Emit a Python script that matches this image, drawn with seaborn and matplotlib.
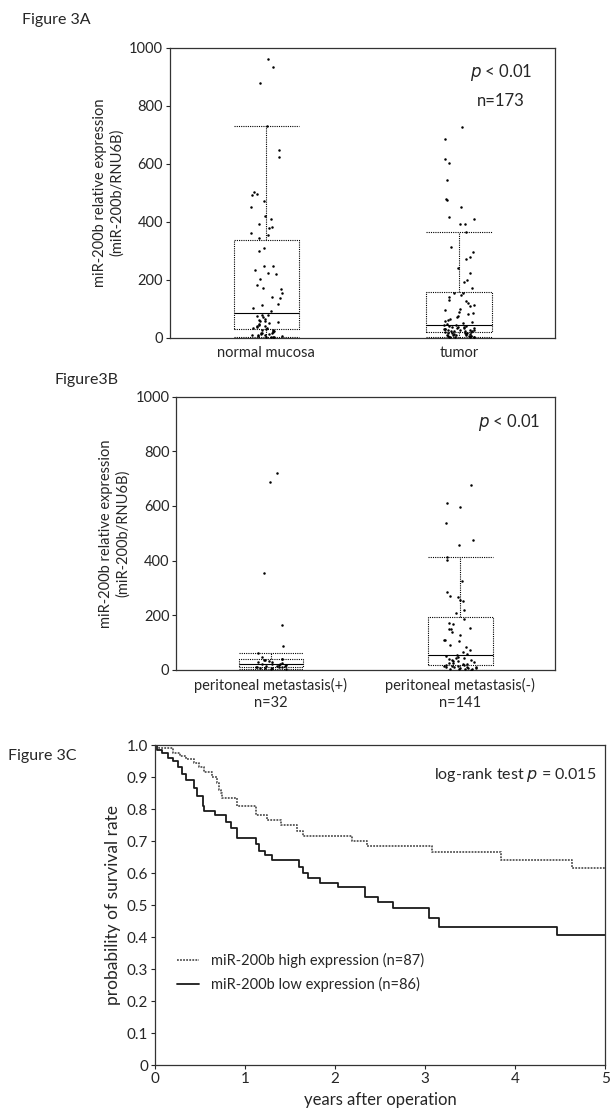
import numpy as np
import pandas as pd
import matplotlib
matplotlib.use("Agg")
import matplotlib.pyplot as plt
import seaborn as sns

#%% Data

# Figure 3A - miR-200b relative expression (miR-200b/RNU6B)
normal_vals = [960, 935, 879, 729, 646, 624, 502, 495, 493, 470, 451, 420, 410, 391, 382, 380, 360, 355,
               345, 310, 300, 246, 246, 235, 224, 221, 204, 181, 172, 168, 153, 139, 136, 117, 113, 104, 91, 80,
               78, 75, 70, 66, 62, 59, 57, 53, 50, 48, 45, 40, 40, 38, 35, 33, 30, 28, 25, 24,
               22, 20, 18, 16, 15, 13, 12, 10, 9, 8, 6, 5, 4, 3, 2, 1]
tumor_vals = [726, 684, 618, 601, 544, 478, 474, 451, 417, 410, 391, 391, 365, 312, 295, 278, 272, 241, 224, 198, 193, 170,
              155, 153, 147, 140, 130, 125, 119, 113, 108, 100, 95, 90, 85, 82, 74, 70, 65, 60, 57, 54, 52, 47,
              44, 43, 42, 40, 38, 37, 36, 34, 33, 32, 31, 30, 29, 28, 27, 26, 25, 24, 23, 22, 22, 21,
              19, 18, 17, 16, 15, 14, 13, 12, 11, 10, 9, 8, 7, 6, 5, 5, 4, 3, 3, 2, 2, 1]
groups_a = ["normal mucosa", "tumor"]

# Figure 3B - peritoneal metastasis
pm_pos_vals = [719, 687, 355, 165, 86, 61, 49, 41,
               38.5, 37, 35, 32, 30, 28, 25, 23,
               21, 20, 19, 18, 16, 15, 13, 11.5,
               10.5, 10, 9, 8, 7, 6, 5, 3]
pm_neg_vals = [678, 611, 595, 538, 477, 458, 414, 403, 326, 285, 269, 266, 257, 253, 220, 210,
               186, 171, 169, 153, 149, 149, 138, 128, 110, 110, 107, 92, 85, 73, 65, 58,
               53, 50, 47, 44, 42, 40, 38, 36, 34, 31, 29, 27, 25, 23, 21, 19,
               17, 16, 15, 14, 12, 11, 10, 9, 8, 7, 6, 5, 4, 3, 2, 1]
groups_b = ["peritoneal metastasis(+)\nn=32", "peritoneal metastasis(-)\nn=141"]

# Figure 3C - Kaplan-Meier curves
high_t = [0, 0.05, 0.2, 0.28, 0.345, 0.43, 0.49, 0.55, 0.63, 0.69, 0.71, 0.73, 0.75, 0.91, 1.12, 1.24,
          1.4, 1.58, 1.64, 2.19, 2.35, 3.08, 3.84, 4.63, 5.0]
high_s = [1.0, 0.99, 0.975, 0.965, 0.955, 0.945, 0.93, 0.915, 0.90, 0.88, 0.86, 0.85, 0.833, 0.81, 0.78, 0.765,
          0.75, 0.73, 0.715, 0.70, 0.685, 0.665, 0.64, 0.615, 0.615]
low_t = [0, 0.02, 0.08, 0.14, 0.2, 0.26, 0.3, 0.345, 0.43, 0.47, 0.53, 0.55, 0.67, 0.79, 0.85, 0.91,
         1.12, 1.16, 1.22, 1.3, 1.6, 1.64, 1.7, 1.83, 2.03, 2.33, 2.48, 2.64, 3.04, 3.15, 4.46, 5.0]
low_s = [1.0, 0.985, 0.975, 0.96, 0.95, 0.93, 0.91, 0.89, 0.865, 0.84, 0.81, 0.795, 0.78, 0.76, 0.74, 0.71,
         0.69, 0.67, 0.655, 0.64, 0.62, 0.60, 0.585, 0.57, 0.555, 0.525, 0.51, 0.49, 0.46, 0.43, 0.405, 0.405]

#%% Tables

df_a = pd.DataFrame({"group": [groups_a[0]] * len(normal_vals) + [groups_a[1]] * len(tumor_vals),
                     "value": normal_vals + tumor_vals})
df_b = pd.DataFrame({"group": [groups_b[0]] * len(pm_pos_vals) + [groups_b[1]] * len(pm_neg_vals),
                     "value": pm_pos_vals + pm_neg_vals})
km = pd.concat([
    pd.DataFrame({"years": high_t, "surv": high_s, "grp": "miR-200b high expression (n=87)"}),
    pd.DataFrame({"years": low_t, "surv": low_s, "grp": "miR-200b low expression (n=86)"}),
])

#%% Style
sns.set_style("ticks")
plt.rcParams["font.family"] = ["Lato", "DejaVu Sans"]
plt.rcParams["axes.linewidth"] = 0.9
np.random.seed(3)  # only for strip jitter

fig = plt.figure(figsize=(6.1, 11.11), dpi=100)

dot = (0, (1, 1))
box_kw = dict(width=0.34, fill=False, color="black", linewidth=0.8, showfliers=False,
              capwidths=0.34,
              boxprops=dict(linestyle=dot), whiskerprops=dict(linestyle=dot),
              capprops=dict(linestyle=dot), medianprops=dict(linestyle="-"))


def box_panel(ax, df, order):
    sns.boxplot(data=df, x="group", y="value", order=order, ax=ax, **box_kw)
    sns.stripplot(data=df, x="group", y="value", order=order, ax=ax, color="black",
                  size=1.8, jitter=0.085, linewidth=0)
    ax.set_ylim(0, 1000)
    ax.set_xlim(-0.5, 1.5)
    ax.set_yticks(range(0, 1001, 200))
    ax.set_xlabel("")
    ax.tick_params(axis="x", length=0, labelsize=10.5, pad=6)
    ax.tick_params(axis="y", length=3, labelsize=10.5, pad=2)
    for s in ax.spines.values():
        s.set_visible(True)
        s.set_color("#333333")


#%% Figure 3A
ax1 = fig.add_axes([0.279, 0.696, 0.631, 0.261])
box_panel(ax1, df_a, groups_a)
ax1.set_ylabel("miR-200b relative expression\n(miR-200b/RNU6B)", fontsize=10.5)
ax1.text(0.86, 0.915, "$\\it{p}$ < 0.01", transform=ax1.transAxes, ha="center", va="center", fontsize=12)
ax1.text(0.86, 0.815, "n=173", transform=ax1.transAxes, ha="center", va="center", fontsize=12)
fig.text(0.036, 0.982, "Figure 3A", fontsize=11.5, va="center")

#%% Figure 3B
ax2 = fig.add_axes([0.289, 0.397, 0.621, 0.246])
box_panel(ax2, df_b, groups_b)
ax2.set_ylabel("miR-200b relative expression\n(miR-200b/RNU6B)", fontsize=10.5)
ax2.text(0.88, 0.905, "$\\it{p}$ < 0.01", transform=ax2.transAxes, ha="center", va="center", fontsize=12)
fig.text(0.09, 0.658, "Figure3B", fontsize=11.5, va="center")

#%% Figure 3C
ax3 = fig.add_axes([0.254, 0.0414, 0.738, 0.288])
sns.lineplot(data=km, x="years", y="surv", hue="grp", style="grp", estimator=None,
             drawstyle="steps-post", palette=["#555555", "#1a1a1a"],
             dashes=[(1, 0.7), ""], linewidth=1.3, ax=ax3)
ax3.set_xlim(0, 5)
ax3.set_ylim(0, 1.0)
ax3.set_xticks(range(0, 6))
yt = [i / 10 for i in range(11)]
ax3.set_yticks(yt)
ax3.set_yticklabels(["0"] + ["%.1f" % v for v in yt[1:]])
ax3.tick_params(labelsize=11, length=3, pad=2)
ax3.set_xlabel("years after operation", fontsize=12)
ax3.set_ylabel("probability of survival rate", fontsize=12.5)
for s in ax3.spines.values():
    s.set_visible(True)
    s.set_color("#333333")
ax3.legend(loc="upper left", bbox_to_anchor=(0.02, 0.39), frameon=False, fontsize=10.5,
           handlelength=1.5, labelspacing=0.6)
ax3.text(0.98, 0.905, "log-rank test $\\it{p}$ = 0.015", transform=ax3.transAxes, ha="right",
         va="center", fontsize=11.5)
fig.text(0.013, 0.3195, "Figure 3C", fontsize=11.5, va="center")

fig.savefig("out.png", dpi=100)
